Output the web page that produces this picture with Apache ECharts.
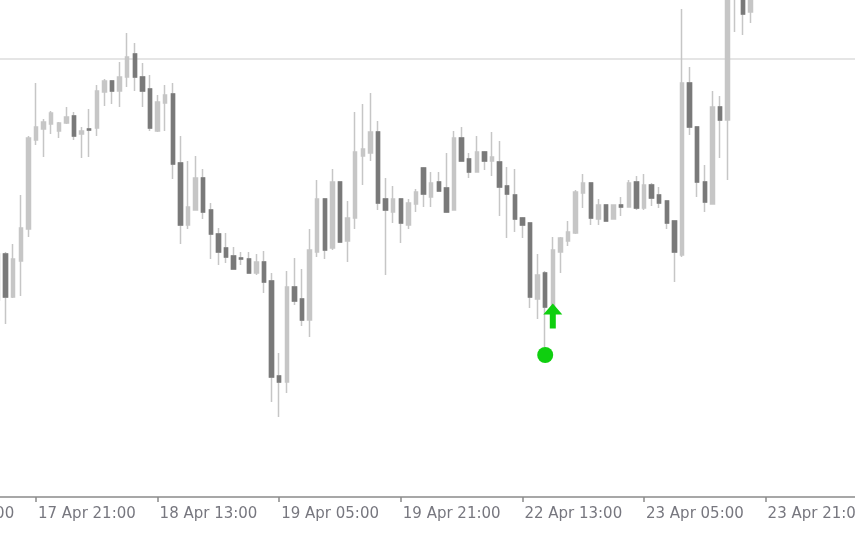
<!DOCTYPE html>
<html>
<head>
<meta charset="utf-8">
<script src="https://cdn.jsdelivr.net/npm/echarts@6/dist/echarts.min.js"></script>
<style>html,body{margin:0;padding:0;background:#fff;}#c{width:855px;height:534px;}</style>
</head>
<body>
<div id="c"></div>
<script>
// Hourly bars (forex, weekend skipped); bar 0 = 17 Apr 2019 05:00
const startTime = Date.UTC(2019, 3, 17, 5);
const barCount = 125;
const firstBar = 11;           // index of first drawn candle
const labelEvery = 16;         // a time label every 16 bars
const monthNames = ['Jan','Feb','Mar','Apr','May','Jun','Jul','Aug','Sep','Oct','Nov','Dec'];

const open = [
1.12600,1.12646,1.12603,1.12639,1.12671,1.12760,1.12771,1.12776,1.12769,1.12777,
1.12784,1.12766,1.12771,1.12772,1.12808,1.12819,1.12809,1.12823,1.12846,1.12823,
1.12811,1.12769,1.12797,1.12806,1.12737,1.12675,1.12690,1.12722,1.12690,1.12666,
1.12652,1.12644,1.12642,1.12641,1.12627,1.12638,1.12619,1.12524,1.12518,1.12613,
1.12601,1.12580,1.12648,1.12701,1.12652,1.12718,1.12659,1.12682,1.12744,1.12747,
1.12768,1.12701,1.12688,1.12701,1.12675,1.12696,1.12732,1.12703,1.12718,1.12712,
1.12690,1.12762,1.12741,1.12728,1.12748,1.12739,1.12738,1.12714,1.12705,1.12682,
1.12677,1.12601,1.12627,1.12593,1.12648,1.12659,1.12667,1.12707,1.12717,1.12681,
1.12695,1.12681,1.12695,1.12693,1.12718,1.12692,1.12715,1.12705,1.12699,1.12679,
1.12645,1.12817,1.12773,1.12718,1.12696,1.12793,1.12780,1.12908,1.12920,1.12888];
const high = [
1.12650,1.12648,1.12656,1.12705,1.12764,1.12817,1.12781,1.12789,1.12778,1.12793,
1.12788,1.12773,1.12791,1.12815,1.12821,1.12820,1.12838,1.12867,1.12857,1.12837,
1.12825,1.12805,1.12815,1.12817,1.12764,1.12739,1.12744,1.12731,1.12697,1.12672,
1.12667,1.12653,1.12648,1.12648,1.12646,1.12649,1.12627,1.12547,1.12629,1.12642,
1.12631,1.12671,1.12720,1.12702,1.12731,1.12718,1.12699,1.12788,1.12796,1.12807,
1.12779,1.12722,1.12714,1.12702,1.12701,1.12711,1.12733,1.12728,1.12728,1.12747,
1.12769,1.12773,1.12747,1.12764,1.12749,1.12768,1.12759,1.12733,1.12731,1.12683,
1.12677,1.12646,1.12629,1.12663,1.12663,1.12679,1.12710,1.12726,1.12717,1.12701,
1.12695,1.12695,1.12703,1.12720,1.12724,1.12726,1.12717,1.12713,1.12699,1.12679,
1.12891,1.12833,1.12774,1.12735,1.12809,1.12804,1.12912,1.12930,1.12925,1.12912];
const low = [
1.12598,1.12576,1.12602,1.12604,1.12663,1.12755,1.12743,1.12766,1.12762,1.12776,
1.12760,1.12742,1.12743,1.12764,1.12794,1.12796,1.12793,1.12813,1.12809,1.12793,
1.12769,1.12768,1.12769,1.12721,1.12656,1.12671,1.12690,1.12681,1.12641,1.12635,
1.12637,1.12631,1.12635,1.12627,1.12625,1.12607,1.12498,1.12483,1.12507,1.12595,
1.12574,1.12563,1.12643,1.12641,1.12650,1.12657,1.12638,1.12671,1.12715,1.12739,
1.12690,1.12625,1.12677,1.12657,1.12671,1.12688,1.12693,1.12693,1.12709,1.12687,
1.12690,1.12739,1.12722,1.12728,1.12730,1.12724,1.12684,1.12662,1.12668,1.12662,
1.12592,1.12581,1.12553,1.12593,1.12627,1.12654,1.12666,1.12692,1.12675,1.12675,
1.12679,1.12681,1.12684,1.12693,1.12690,1.12690,1.12694,1.12692,1.12671,1.12618,
1.12643,1.12765,1.12703,1.12688,1.12696,1.12742,1.12720,1.12868,1.12865,1.12877];
const close = [
1.12646,1.12603,1.12641,1.12672,1.12762,1.12773,1.12778,1.12787,1.12777,1.12783,
1.12764,1.12769,1.12770,1.12809,1.12819,1.12809,1.12823,1.12843,1.12823,1.12809,
1.12772,1.12798,1.12805,1.12736,1.12675,1.12693,1.12722,1.12688,1.12666,1.12648,
1.12643,1.12631,1.12641,1.12627,1.12638,1.12618,1.12523,1.12518,1.12613,1.12599,
1.12580,1.12650,1.12701,1.12650,1.12718,1.12658,1.12682,1.12748,1.12751,1.12768,
1.12697,1.12690,1.12701,1.12677,1.12697,1.12708,1.12706,1.12717,1.12709,1.12688,
1.12762,1.12739,1.12728,1.12748,1.12739,1.12743,1.12713,1.12706,1.12681,1.12675,
1.12603,1.12625,1.12593,1.12650,1.12662,1.12668,1.12708,1.12717,1.12682,1.12695,
1.12679,1.12695,1.12693,1.12717,1.12692,1.12715,1.12702,1.12697,1.12677,1.12648,
1.12817,1.12773,1.12718,1.12698,1.12793,1.12780,1.12908,1.12922,1.12886,1.12906];

const levelPrice = 1.12841;
const arrowSignal = [[84, 1.12584]];
const dotSignal = [[83, 1.12545]];
const priceMin = 1.12403;
const priceMax = 1.12900;

// categories
const categories = [];
let t = startTime;
while (categories.length < barCount) {
  const d = new Date(t);
  const wd = d.getUTCDay();
  if (wd !== 0 && wd !== 6) {
    categories.push(d.getUTCDate() + ' ' + monthNames[d.getUTCMonth()] + ' ' +
      String(d.getUTCHours()).padStart(2, '0') + ':00');
  }
  t += 3600000;
}

const allCandles = categories.map((_, i) => {
  const k = i - firstBar;
  if (k < 0 || k >= open.length) return '-';
  return [open[k], close[k], low[k], high[k]];
});
const bearBodies = categories.map((_, i) => {
  const k = i - firstBar;
  if (k < 0 || k >= open.length || close[k] >= open[k]) return '-';
  return [open[k], close[k], close[k], open[k]];
});
const levelLine = [[0, levelPrice], [barCount - 1, levelPrice]];

const LIGHT = '#c6c6c6';
const DARK = '#7a7a7a';
const GREEN = '#0fcf0f';
const showAt = (i) => i % labelEvery === 0;

const chart = echarts.init(document.getElementById('c'), null, {renderer: 'canvas'});
chart.setOption({
  animation: false,
  backgroundColor: '#ffffff',
  grid: {left: -89.4, right: -5.6, top: 0, bottom: 37, containLabel: false, outerBoundsMode: 'none'},
  xAxis: {
    type: 'category',
    data: categories,
    boundaryGap: true,
    axisLine: {show: true, lineStyle: {color: '#8a8a8a', width: 1.5}},
    axisTick: {show: true, alignWithLabel: true, interval: showAt, length: 5,
               lineStyle: {color: '#8a8a8a', width: 1.5}},
    axisLabel: {show: true, interval: showAt, align: 'left', color: '#77777f',
                fontFamily: 'DejaVu Sans', fontSize: 15, margin: 10, padding: [0, 0, 0, 2]},
    splitLine: {show: false}
  },
  yAxis: {type: 'value', min: priceMin, max: priceMax, show: false, splitLine: {show: false}},
  series: [
    {
      type: 'line',
      data: levelLine,
      showSymbol: false,
      symbol: 'none',
      silent: true,
      lineStyle: {color: '#dddddd', width: 1.5},
      z: 1
    },
    {
      type: 'candlestick',
      data: allCandles,
      barWidth: 4,
      clip: true,
      itemStyle: {color: LIGHT, color0: LIGHT, borderColor: LIGHT, borderColor0: LIGHT, borderWidth: 1.5},
      z: 2
    },
    {
      type: 'candlestick',
      data: bearBodies,
      barWidth: 4,
      clip: true,
      itemStyle: {color: DARK, color0: DARK, borderColor: DARK, borderColor0: DARK, borderWidth: 1.5},
      z: 3
    },
    {
      type: 'scatter',
      data: arrowSignal,
      symbol: 'path://M9.5,0 L19,11 L12.5,11 L12.5,25 L6.5,25 L6.5,11 L0,11 Z',
      symbolSize: [19, 25],
      itemStyle: {color: GREEN, opacity: 1},
      z: 5
    },
    {
      type: 'scatter',
      data: dotSignal,
      symbol: 'circle',
      symbolSize: 16,
      itemStyle: {color: GREEN, opacity: 1},
      z: 5
    }
  ]
});
</script>
</body>
</html>
